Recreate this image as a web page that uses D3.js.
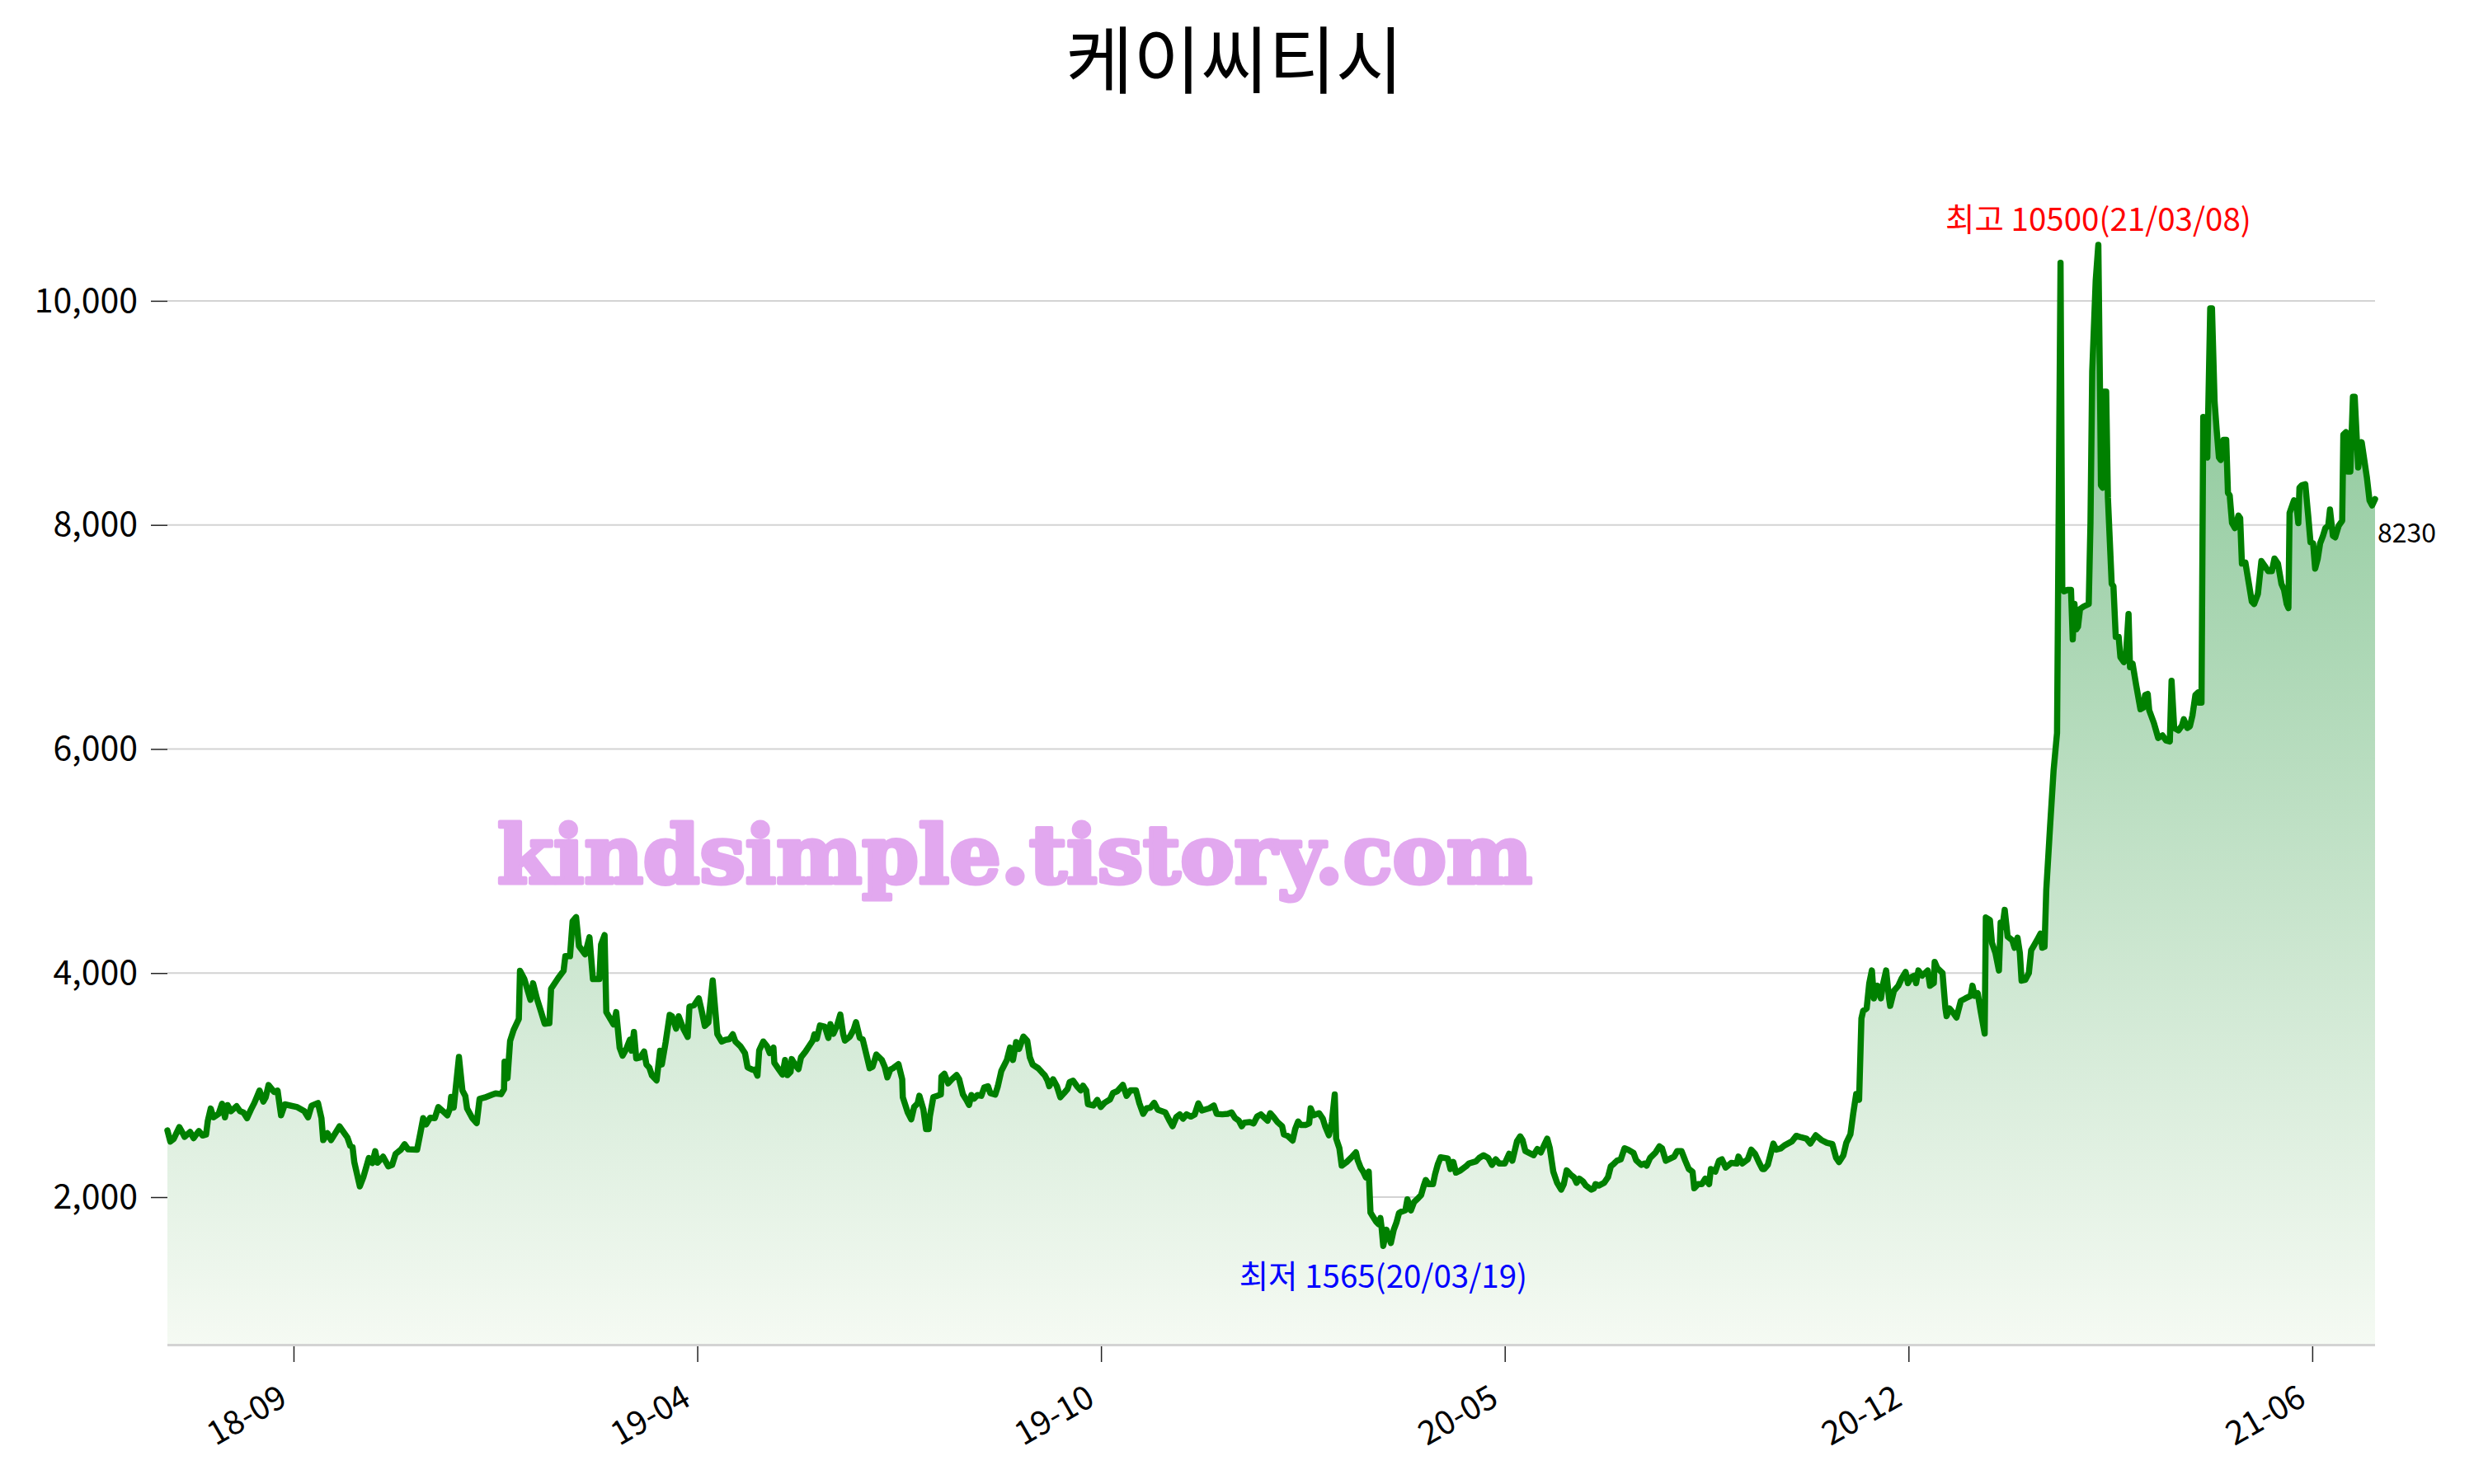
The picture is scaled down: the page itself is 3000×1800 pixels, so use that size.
<!DOCTYPE html>
<html><head><meta charset="utf-8">
<script src="https://cdn.jsdelivr.net/npm/d3@7"></script>
<style>body{margin:0;background:#fff}svg{display:block}</style>
</head><body>
<svg id="chart" width="3000" height="1800"></svg>
<script>
const title = "케이씨티시";
const watermark = "kindsimple.tistory.com";
const maxDate = "21/03/08";
const minDate = "20/03/19";
const tickDays = [43.4, 182.3, 321.2, 460.1, 599.0, 737.9];
const tickLabels = ["18-09", "19-04", "19-10", "20-05", "20-12", "21-06"];
const yTicks = [2000, 4000, 6000, 8000, 10000];

// trading-day index of each sampled close
const days = [
0,1,2.2,4.1,5.3,5.9,7.8,9,10.8,12.1,13.3,13.9,14.9,15.8,17.6,18.8,19.8,20.7,21.9,23.8,25,26.2,27.4,28.7,29.9,31.7,33,33.8,34.8,36.7,37.9,39.1,40.4,44.7,47.1,48.4,49.6,51.8,53,53.6,55.1,56.3,59.2,61.9,62.9,63.7,64.3,66.2,67.4,69.3,70.5,71.5,72.3,74.2,76,77.3,78.5,80.3,81.6,82.8,85.9,87.1,88,89,90.4,92,93.2,94.8,96.3,97.2,97.6,98.5,100.3,101.5,102.5,103.1,104.9,106.4,107.4,109.2,111.7,112.9,114.8,115.8,116,117,117.9,119.1,120.9,121.3,122.8,124.9,125.8,127.1,128.3,129.8,131.4,132,134.5,136.3,136.9,138.5,139.4,140.6,141.6,143.7,145.2,146.4,148.6,149.2,150.4,151,153.5,154.4,155.6,156.6,157.8,159.1,159.7,160.5,161.3,162.7,164,164.8,165.8,166.7,168.3,169.5,170.1,171.4,172.8,173.6,175,175.9,177.5,179,179.6,181.2,182.8,183.7,184.9,186.1,187.6,189.2,
190.7,192.0,193.3,194.5,195.4,197.1,198.7,199.6,201.2,202.1,203.0,203.6,205.0,206.3,207.2,208.5,208.8,210.4,211.6,212.5,213.3,214.4,214.8,215.8,217.1,218.0,219.5,222.0,222.6,223.4,224.5,226.2,227.4,228.1,229.1,230.4,231.5,232.5,233.1,234.8,236.1,236.9,238.2,239.2,240.7,241.6,242.6,243.9,245.8,246.8,247.7,248.7,249.6,251.5,252.8,253.0,254.7,255.9,256.9,258.1,258.7,260.1,261.0,261.9,262.3,263.5,264.8,266.1,266.3,267.3,268.6,269.9,271.5,272.4,273.7,274.9,275.8,276.6,277.5,278.7,280.0,281.0,282.3,283.1,284.8,285.7,286.9,288.8,289.9,290.9,292.0,293.0,294.5,295.8,296.7,297.7,299.6,300.9,301.8,302.8,303.4,304.7,306.0,307.2,308.5,309.7,310.4,311.6,312.9,314.2,315.0,316.1,316.7,318.6,319.9,321.1,322.4,324.3,325.3,326.8,328.7,330.0,331.3,333.2,334.4,335.7,336.9,338.2,339.5,340.7,343.3,344.5,345.8,347.1,348.3,349.4,350.6,352.1,353.4,354.7,355.9,358.5,360.0,361.0,362.9,364.8,366.1,367.3,368.6,369.6,370.5,372.4,373.7,374.9,376.2,377.5,378.5,379.4,380.6,381.9,383.5,384.1,
385.4,387.1,388.0,389.0,389.9,391.7,392.8,393.3,394.3,396.2,397.5,398.3,399.6,400.6,401.6,402.1,403.2,404.0,405.7,407.6,408.9,409.5,410.5,411.4,412.3,413.3,413.9,414.5,415.8,416.7,417.3,417.7,418.3,419.4,420.0,420.9,421.9,422.8,423.7,424.4,425.9,426.6,427.8,428.9,430.4,431.3,432.3,432.9,433.9,435.4,436.1,437.1,438.0,440.5,441.4,442.4,443.3,444.9,446.8,447.7,450.2,451.3,452.8,454.4,455.7,457.0,458.2,460.1,461.6,462.7,464.3,465.4,466.2,467.2,469.0,470.0,471.3,472.5,473.8,474.7,475.6,476.8,478.1,479.5,480.4,481.4,482.7,483.9,484.8,485.7,487.0,488.0,489.9,490.8,491.3,492.4,494.3,495.6,496.6,497.7,498.7,500.0,501.3,502.5,504.4,505.3,507.0,508.2,508.9,510.1,512.0,513.3,514.2,515.5,517.1,518.4,519.4,520.9,522.2,523.4,524.7,525.3,526.6,527.9,529.1,530.4,531.0,532.5,533.8,534.8,536.1,538.0,539.9,540.5,541.8,543.7,544.9,546.2,547.5,548.7,549.4,550.6,552.5,553.5,555.1,556.3,558.9,560.4,562.0,563.9,565.2,567.1,569.0,570.9,572.8,574.1,575.1,576.6,577.6,579,580,581,582,
582.8,583.4,584.6,585.5,586.4,587.1,588.3,589.5,590.3,591.3,592.3,592.7,594.0,595.5,596.7,598.0,598.8,600.0,601.0,601.6,602.4,603.7,605.6,606.4,607.7,608.0,608.9,610.7,611.7,612.1,613.1,614.3,615.5,617.0,618.6,620.4,621.0,621.8,622.8,623.8,625.2,625.6,627.0,627.7,628.9,630.1,630.7,631.3,632.1,633.1,634.7,635.5,636.5,637.3,637.9,639.2,640.4,641.2,642.2,643.2,644.4,645.0,645.8,646.4,647.7,648.9,650.1,651.3,651.9,652.5,653.7,654.9,655.5,656.1,656.7,657.3,658.0,659.2,661.0,661.6,662.2,663.4,664.3,665.0,665.2,665.8,666.4,667.0,667.6,668.9,669.5,670.3,671.3,671.9,673.1,673.7,674.7,675.2,676.1,677.3,678.8,679.8,680.4,681.3,681.8,683.4,684.9,686.4,687.6,688.9,689.5,690.4,691.9,693.1,693.7,694.9,695.8,696.7,697.7,698.6,698.9,699.8,700.4,701.0,701.8,702.8,703.4,704.3,705.0,705.8,706.4,707.4,708.3,708.9,709.5,710.3,711.3,712.5,713.1,713.7,714.9,716.1,717.1,717.9,719.2,720.4,721.6,722.8,724.0,724.9,726.1,727.3,728.2,729.1,729.7,730.1,731.6,732.5,733.1,733.5,734.3,735.5,736.5,737.3,738.2,738.9,739.8,740.6,741.6,742.4,743.4,744.0,745.0,745.8,747.0,748.2,748.6,749.5,750.1,751.0,751.9,752.5,753.7,754.9,756.7,757.6,758.5,759.5
];

// closing price (won) at each sampled day
const prices = [
2595,2496,2521,2624,2570,2538,2582,2526,2590,2550,2558,2681,2791,2712,2742,2833,2712,2821,2767,2811,2767,2754,2705,2779,2840,2951,2853,2889,3000,2939,2951,2730,2828,2803,2767,2712,2816,2840,2705,2509,2570,2509,2631,2533,2459,2447,2312,2096,2177,2349,2305,2410,2307,2361,2275,2287,2386,2423,2472,2427,2423,2582,2705,2649,2708,2705,2803,2767,2730,2791,2894,2799,3251,2951,2902,2791,2705,2661,2877,2889,2914,2926,2919,2963,3209,3061,3393,3491,3590,4020,3946,3762,3909,3774,3676,3548,3553,3860,3958,4020,4150,4150,4462,4499,4241,4167,4319,3946,3946,4253,4339,3651,3541,3651,3332,3263,3319,3405,3307,3474,3238,3246,3300,3184,3155,3086,3042,3307,3184,3381,3627,3614,3504,3614,3504,3430,3700,3713,3774,3676,3528,3558,3934,3455,
3389,3404,3409,3453,3389,3347,3286,3158,3138,3138,3084,3310,3389,3347,3286,3335,3199,3138,3094,3224,3089,3118,3232,3187,3143,3249,3298,3397,3453,3414,3532,3520,3421,3544,3458,3532,3630,3453,3397,3433,3495,3562,3421,3409,3249,3150,3163,3273,3224,3163,3069,3138,3150,3187,3052,2892,2756,2695,2805,2837,2904,2781,2608,2608,2719,2892,2904,2916,3076,3101,3015,3052,3089,3052,2916,2867,2823,2911,2879,2911,2904,2978,2990,2929,2916,2990,3126,3224,3335,3224,3384,3323,3433,3397,3249,3182,3150,3113,3089,3039,2990,3052,2990,2892,2929,2966,3027,3039,2990,2953,2995,2953,2830,2818,2867,2805,2842,2872,2929,2946,3002,2904,2953,2953,2837,2744,2793,2798,2842,2781,2756,2695,2633,2714,2739,2700,2739,2719,2736,2837,2773,2793,2818,2744,2739,2744,2756,2707,2682,2633,2665,2670,2658,2719,2739,2707,2682,2749,2714,2670,2633,2559,
2547,2505,2608,2675,2645,2645,2658,2793,2731,2749,2700,2633,2552,2670,2916,2522,2436,2281,2313,2362,2399,2330,2264,2227,2177,2227,1862,1837,1783,1759,1813,1734,1565,1709,1665,1591,1709,1771,1857,1869,1882,1980,1882,1956,1993,2017,2108,2153,2116,2116,2202,2296,2355,2345,2251,2313,2219,2239,2276,2300,2320,2350,2374,2350,2288,2337,2300,2300,2387,2325,2498,2542,2510,2411,2387,2374,2429,2399,2473,2522,2436,2227,2128,2067,2116,2239,2202,2177,2128,2165,2140,2103,2067,2079,2116,2103,2128,2177,2276,2300,2325,2337,2436,2424,2394,2330,2288,2300,2281,2350,2399,2453,2436,2325,2345,2362,2411,2411,2325,2251,2227,2079,2116,2116,2165,2116,2251,2227,2325,2337,2264,2305,2300,2362,2300,2337,2424,2387,2313,2251,2251,2288,2478,2424,2436,2461,2498,2547,2534,2522,2478,2552,2510,2485,2473,2350,2313,2374,2485,2560,2750,2920,2870,
3594,3662,3684,3910,4023,3774,3887,3774,3910,4023,3774,3707,3842,3887,3955,4009,3910,3964,3977,3910,4023,3977,4023,3887,3910,4099,4045,4000,3684,3616,3684,3648,3603,3752,3774,3797,3887,3797,3820,3662,3460,4496,4474,4271,4180,4023,4451,4406,4564,4325,4293,4226,4316,4180,3932,3941,4000,4203,4248,4293,4352,4226,4235,4744,5308,5805,6143,10339,7429,7407,7420,7420,6978,7294,7068,7091,7249,7271,7294,8016,9369,10181,10500,8918,8354,8332,9189,9189,8241,7474,7452,7000,7000,6820,6775,6797,7204,6730,6761,6572,6355,6369,6482,6491,6346,6233,6098,6121,6076,6067,6608,6188,6166,6211,6265,6188,6202,6301,6482,6504,6414,6414,8963,8625,8602,9933,9933,9099,8850,8602,8580,8760,8760,8286,8264,8016,7971,8083,8061,7655,7664,7474,7316,7294,7384,7677,7632,7587,7587,7700,7655,7474,7420,7294,7258,8106,8219,8174,8016,8332,8354,8363,8083,7844,7835,7610,7700,7835,7903,7971,7993,8137,7903,7889,7993,8038,8805,8828,8476,8476,9144,9144,8512,8738,8422,8219,8174,8230
];

const FONT = "'Noto Sans CJK KR','Noto Sans',sans-serif";
const data = days.map((d, i) => ({ d, v: prices[i] }));

const svg = d3.select("#chart");
const x0 = 203, x1 = 2880, yBottom = 1631;
const x = d3.scaleLinear().domain([days[0], days[days.length - 1]]).range([x0, x1]);
const y = d3.scaleLinear().domain([683, 11000]).range([yBottom, 229]);

const maxPt = data.reduce((a, b) => (b.v > a.v ? b : a));
const minPt = data.reduce((a, b) => (b.v < a.v ? b : a));
const lastPt = data[data.length - 1];

// gradient
const defs = svg.append("defs");
const grad = defs.append("linearGradient").attr("id", "fillGrad")
  .attr("gradientUnits", "userSpaceOnUse")
  .attr("x1", 0).attr("x2", 0).attr("y1", y(maxPt.v)).attr("y2", yBottom);
grad.append("stop").attr("offset", 0).attr("stop-color", "rgb(130,195,145)");
grad.append("stop").attr("offset", 1).attr("stop-color", "rgb(245,250,243)");

// grid lines
svg.append("g").selectAll("line").data(yTicks).join("line")
  .attr("x1", x0).attr("x2", x1)
  .attr("y1", d => y(d)).attr("y2", d => y(d))
  .attr("stroke", "#d3d3d3").attr("stroke-width", 2);

// area
svg.append("path").datum(data)
  .attr("fill", "url(#fillGrad)")
  .attr("d", d3.area().x(p => x(p.d)).y0(yBottom).y1(p => y(p.v)));

// watermark
svg.append("text")
  .attr("x", 603).attr("y", 1071)
  .attr("font-family", "'DejaVu Serif',serif").attr("font-weight", "bold")
  .attr("font-size", 98).attr("fill", "#e2a8ef")
  .attr("stroke", "#e2a8ef").attr("stroke-width", 5).attr("stroke-linejoin", "round")
  .attr("textLength", 1255).attr("lengthAdjust", "spacingAndGlyphs")
  .text(watermark);

// line
svg.append("path").datum(data)
  .attr("fill", "none").attr("stroke", "#008000").attr("stroke-width", 7.5)
  .attr("stroke-linejoin", "round").attr("stroke-linecap", "round")
  .attr("d", d3.line().x(p => x(p.d)).y(p => y(p.v)));

// bottom spine
svg.append("line").attr("x1", x0).attr("x2", x1)
  .attr("y1", yBottom + 0.5).attr("y2", yBottom + 0.5)
  .attr("stroke", "#d3d3d3").attr("stroke-width", 3);

// y axis
const yAxis = svg.append("g").attr("transform", `translate(${x0},0)`)
  .call(d3.axisLeft(y).tickValues(yTicks).tickSize(20).tickPadding(16).tickFormat(d3.format(",")));
yAxis.select(".domain").remove();
yAxis.selectAll(".tick line").attr("stroke", "#222").attr("stroke-width", 1.5);
yAxis.selectAll(".tick text").attr("font-family", FONT).attr("font-size", 41).attr("fill", "#000");

// x axis
const xAxis = svg.append("g").attr("transform", `translate(0,${yBottom + 2})`)
  .call(d3.axisBottom(x).tickValues(tickDays).tickSize(19).tickFormat((d, i) => tickLabels[i]));
xAxis.select(".domain").remove();
xAxis.selectAll(".tick line").attr("stroke", "#222").attr("stroke-width", 1.5);
xAxis.selectAll(".tick text")
  .attr("font-family", FONT).attr("font-size", 40).attr("fill", "#000")
  .attr("x", 0).attr("y", 0).attr("dy", 0)
  .attr("text-anchor", "end")
  .attr("transform", "translate(-6,70) rotate(-30)");

// title
svg.append("text").attr("x", 1497).attr("y", 106)
  .attr("text-anchor", "middle").attr("font-family", FONT)
  .attr("font-size", 89).attr("fill", "#000").text(title);

// annotations
svg.append("text").attr("x", x(maxPt.d)).attr("y", y(maxPt.v) - 17)
  .attr("text-anchor", "middle").attr("font-family", FONT).attr("font-size", 38.5)
  .attr("fill", "red").text(`최고 ${maxPt.v}(${maxDate})`);
svg.append("text").attr("x", x(minPt.d)).attr("y", y(minPt.v) + 51)
  .attr("text-anchor", "middle").attr("font-family", FONT).attr("font-size", 38.5)
  .attr("fill", "blue").text(`최저 ${minPt.v}(${minDate})`);
svg.append("text").attr("x", x1 + 3).attr("y", y(lastPt.v) + 53)
  .attr("font-family", FONT).attr("font-size", 32).attr("fill", "#000")
  .text(lastPt.v);
</script>
</body></html>
